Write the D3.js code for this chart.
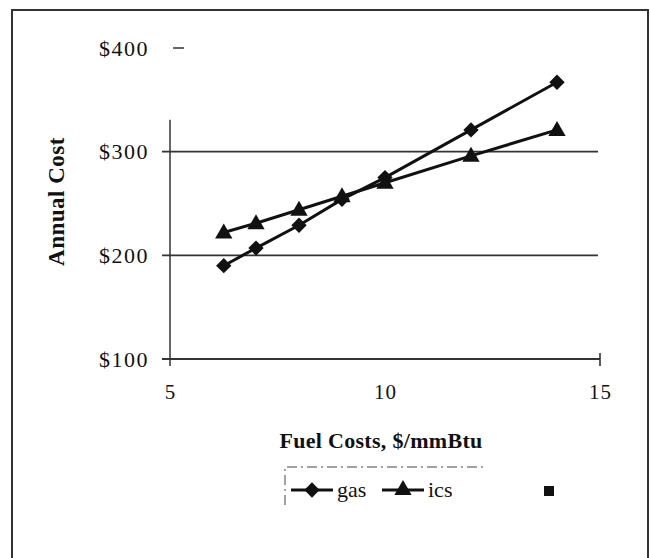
<!DOCTYPE html>
<html>
<head>
<meta charset="utf-8">
<script src="https://cdn.jsdelivr.net/npm/d3@7"></script>
<style>
  html, body { margin: 0; padding: 0; background: #fff; }
  svg { display: block; }
  text { font-family: "Liberation Serif", "DejaVu Serif", serif; fill: #111; }
</style>
</head>
<body>
<svg id="chart" width="650" height="558"></svg>
<script>
// Annual cost against fuel price for two options
const fuelPrices = [6.25, 7, 8, 9, 10, 12, 14];
const gasCost = [190, 207, 229, 254, 275, 321, 367];
const icsCost = [222, 231, 244, 257, 270, 296, 321];
const seriesNames = ["gas", "ics"];
const xTicks = [5, 10, 15];
const yTicks = [100, 200, 300, 400];

const svg = d3.select("#chart");
const ink = "#111";

// frame around the whole figure
svg.append("rect")
  .attr("x", 12).attr("y", 10).attr("width", 636).attr("height", 560)
  .attr("fill", "none").attr("stroke", "#333").attr("stroke-width", 2);

const x = d3.scaleLinear().domain([5, 15]).range([170, 600]);
const y = d3.scaleLinear().domain([100, 400]).range([359, 48]);

// horizontal gridlines at $200 and $300
const grid = svg.append("g").attr("stroke", "#333").attr("stroke-width", 1.6);
[200, 300].forEach(v => {
  grid.append("line")
    .attr("x1", x(5) - 8).attr("x2", x(15) - 2)
    .attr("y1", y(v)).attr("y2", y(v));
});

// x axis with end tick
const xAxis = d3.axisBottom(x).tickValues(xTicks).tickSize(0).tickPadding(25)
  .tickFormat(d3.format("d"));
const gx = svg.append("g").attr("transform", `translate(0,${y(100)})`).call(xAxis);
gx.select(".domain").remove();
gx.selectAll("text").style("font-size", "21px").style("letter-spacing", "1px").attr("fill", ink);
svg.append("line").attr("x1", x(5) - 8).attr("x2", x(15))
  .attr("y1", y(100)).attr("y2", y(100)).attr("stroke", "#333").attr("stroke-width", 1.8);
svg.append("line").attr("x1", x(15)).attr("x2", x(15))
  .attr("y1", y(100) - 6).attr("y2", y(100) + 7).attr("stroke", "#333").attr("stroke-width", 1.6);

// y axis: value line drawn up to just above $300
svg.append("line").attr("x1", x(5)).attr("x2", x(5))
  .attr("y1", y(300) - 32).attr("y2", y(100) + 7)
  .attr("stroke", "#333").attr("stroke-width", 1.5);
const yAxis = d3.axisLeft(y).tickValues(yTicks).tickSize(0).tickPadding(21)
  .tickFormat(d => "$" + d);
const gy = svg.append("g").attr("transform", `translate(${x(5)},0)`).call(yAxis);
gy.select(".domain").remove();
gy.selectAll("text").style("font-size", "22px").style("letter-spacing", "1.5px").attr("fill", ink);
// short dash beside the top label
svg.append("line").attr("x1", x(5) + 3).attr("x2", x(5) + 14)
  .attr("y1", y(400)).attr("y2", y(400)).attr("stroke", "#333").attr("stroke-width", 1.5);

// axis titles
svg.append("text").attr("x", 381).attr("y", 448).attr("text-anchor", "middle")
  .style("font-size", "22px").style("font-weight", "bold").style("letter-spacing", "0.3px")
  .text("Fuel Costs, $/mmBtu");
svg.append("text").attr("transform", `translate(64,${y(250) - 2}) rotate(-90)`)
  .attr("text-anchor", "middle")
  .style("font-size", "23px").style("font-weight", "bold").style("letter-spacing", "0.5px")
  .text("Annual Cost");

// series lines and markers
const line = d3.line().x(d => x(d[0])).y(d => y(d[1]));
const diamond = d3.symbol().type(d3.symbolDiamond2).size(150);
const triangle = d3.symbol().type(d3.symbolTriangle).size(130);
const series = [
  { name: seriesNames[0], values: gasCost, shape: diamond, dy: 0 },
  { name: seriesNames[1], values: icsCost, shape: triangle, dy: 1 }
];
series.forEach(s => {
  const pts = fuelPrices.map((f, i) => [f, s.values[i]]);
  svg.append("path").datum(pts).attr("d", line)
    .attr("fill", "none").attr("stroke", ink).attr("stroke-width", 3);
  svg.append("g").selectAll("path").data(pts).join("path")
    .attr("transform", d => `translate(${x(d[0])},${y(d[1]) + s.dy})`)
    .attr("d", s.shape()).attr("fill", ink);
});

// legend
const lg = svg.append("g");
lg.append("path").attr("d", "M285,505 V467 H483")
  .attr("fill", "none").attr("stroke", "#444").attr("stroke-width", 1)
  .attr("stroke-dasharray", "10,4,2,4");
const items = [
  { name: seriesNames[0], shape: diamond, x0: 291 },
  { name: seriesNames[1], shape: triangle, x0: 382 }
];
items.forEach(it => {
  lg.append("line").attr("x1", it.x0).attr("x2", it.x0 + 42)
    .attr("y1", 490).attr("y2", 490).attr("stroke", ink).attr("stroke-width", 3);
  lg.append("path").attr("transform", `translate(${it.x0 + 21},490)`)
    .attr("d", it.shape()).attr("fill", ink);
  lg.append("text").attr("x", it.x0 + 46).attr("y", 497)
    .style("font-size", "22px").text(it.name);
});
lg.append("rect").attr("x", 544).attr("y", 486).attr("width", 10).attr("height", 10).attr("fill", ink);
</script>
</body>
</html>
